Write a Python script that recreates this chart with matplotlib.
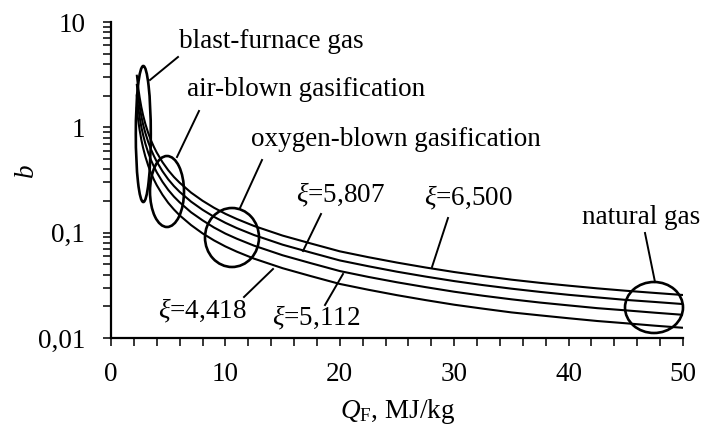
import matplotlib
matplotlib.use("Agg")
import matplotlib.pyplot as plt
from matplotlib.patches import Ellipse
from matplotlib.lines import Line2D
from matplotlib.ticker import FixedLocator, FixedFormatter, LogLocator, NullFormatter

plt.rcParams['font.family'] = ['Liberation Serif', 'DejaVu Serif']
plt.rcParams['mathtext.fontset'] = 'custom'
plt.rcParams['mathtext.rm'] = 'Liberation Serif'
plt.rcParams['mathtext.it'] = 'Liberation Serif:italic'

### data
q = [2.25, 2.35, 2.5, 2.65, 2.8, 3.0, 3.25, 3.5, 3.75, 4, 4.5, 5, 5.5, 6, 7, 8, 9, 10, 11, 12.5,
     15, 17.5, 20, 22.5, 25, 27.5, 30, 32.5, 35, 37.5, 40, 42.5, 45, 47.5, 50]  # MJ/kg
b_6500 = [3.16, 2.51, 1.93, 1.56, 1.31, 1.08, 0.886, 0.751, 0.652, 0.576, 0.467, 0.392, 0.338, 0.298,
          0.240, 0.201, 0.1725, 0.151, 0.1348, 0.1158, 0.0938, 0.0788, 0.0665, 0.0585, 0.0520, 0.0467,
          0.0423, 0.0388, 0.0358, 0.0334, 0.0314, 0.0296, 0.0281, 0.0268, 0.0256]
b_5807 = [2.59, 2.06, 1.58, 1.28, 1.07, 0.886, 0.727, 0.616, 0.535, 0.472, 0.383, 0.321, 0.277, 0.244,
          0.197, 0.165, 0.1415, 0.124, 0.1105, 0.095, 0.0769, 0.0646, 0.0545, 0.048, 0.0426, 0.0383,
          0.0347, 0.0318, 0.0294, 0.0274, 0.0257, 0.0243, 0.023, 0.022, 0.021]
b_5112 = [2.05, 1.63, 1.25, 1.01, 0.852, 0.702, 0.576, 0.488, 0.424, 0.374, 0.304, 0.255, 0.220, 0.194,
          0.156, 0.131, 0.112, 0.098, 0.0876, 0.0753, 0.061, 0.0512, 0.0432, 0.038, 0.0338, 0.0304,
          0.0275, 0.0252, 0.0233, 0.0217, 0.0204, 0.0192, 0.0183, 0.0174, 0.0166]
b_4418 = [1.55, 1.23, 0.946, 0.764, 0.642, 0.529, 0.434, 0.368, 0.319, 0.282, 0.229, 0.192, 0.166, 0.146,
          0.118, 0.0985, 0.0845, 0.074, 0.066, 0.0567, 0.046, 0.0386, 0.0326, 0.0287, 0.0255, 0.0229,
          0.0207, 0.019, 0.0175, 0.0164, 0.0154, 0.0145, 0.0138, 0.0131, 0.0125]

xticks = [0, 10, 20, 30, 40, 50]
yticks = [0.01, 0.1, 1, 10]
ytick_labels = ["0,01", "0,1", "1", "10"]

W, H = 701, 433
fs = 19.5

def fx(px):
    return px / W

def fy(py):
    return 1 - py / H

fig = plt.figure(figsize=(W / 100, H / 100), dpi=100)
ax = fig.add_axes([fx(111), fy(338), 572 / W, 316 / H])

for b in [b_6500, b_5807, b_5112, b_4418]:
    ax.plot(q, b, color="black", lw=1.5, solid_capstyle="butt")

ax.set_yscale("log")
ax.set_xlim(0, 50)
ax.set_ylim(0.01, 10)
ax.spines["top"].set_visible(False)
ax.spines["right"].set_visible(False)
for s in ["left", "bottom"]:
    ax.spines[s].set_linewidth(1.6)

ax.xaxis.set_major_locator(FixedLocator(xticks))
ax.xaxis.set_minor_locator(FixedLocator([x for x in range(0, 51, 2) if x % 10]))
ax.yaxis.set_major_locator(FixedLocator(yticks))
ax.yaxis.set_major_formatter(FixedFormatter(ytick_labels))
ax.yaxis.set_minor_locator(LogLocator(base=10, subs=range(2, 10)))
ax.yaxis.set_minor_formatter(NullFormatter())
ax.tick_params(which="both", direction="out", length=5.5, width=1.1, labelsize=fs, color="black")
ax.tick_params(axis="x", pad=12)
ax.tick_params(axis="y", pad=13)

fig.text(fx(398), fy(412), r"$Q_\mathrm{F}$, MJ/kg", fontsize=fs, ha="center", va="center")
fig.text(fx(27), fy(172), r"$b$", fontsize=fs, ha="center", va="center", rotation=90)

# ellipses: centre x, centre y, width, height (pixels)
ellipses = [(143.3, 134, 15, 136), (167, 191.5, 34, 71), (232, 237.5, 54, 59), (654, 307.5, 58, 51)]
for cx, cy, w, h in ellipses:
    fig.add_artist(Ellipse((fx(cx), fy(cy)), w / W, h / H, transform=fig.transFigure,
                           facecolor="none", edgecolor="black", lw=1.9))

leaders = [((150, 80), (178, 57)), ((177, 157), (199, 111)), ((240, 208), (262, 160)),
           ((655, 282), (645, 233)), ((303, 251), (321, 214)), ((432, 267), (448, 218)),
           ((244, 297), (273, 269)), ((325, 305), (343, 274))]
for (x0, y0), (x1, y1) in leaders:
    fig.add_artist(Line2D([fx(x0), fx(x1)], [fy(y0), fy(y1)], transform=fig.transFigure,
                          color="black", lw=1.4))

labels = [("blast-furnace gas", 179, 42, "left"), ("air-blown gasification", 187, 90, "left"),
          ("oxygen-blown gasification", 251, 140, "left"), ("natural gas", 700, 218, "right"),
          (r"$\xi$=5,807", 296, 195, "left"), (r"$\xi$=6,500", 424, 198, "left"),
          (r"$\xi$=4,418", 158, 311, "left"), (r"$\xi$=5,112", 272, 318, "left")]
for t, x, y, ha in labels:
    fig.text(fx(x), fy(y), t, fontsize=fs, ha=ha, va="center")

fig.savefig("out.png", dpi=100)
